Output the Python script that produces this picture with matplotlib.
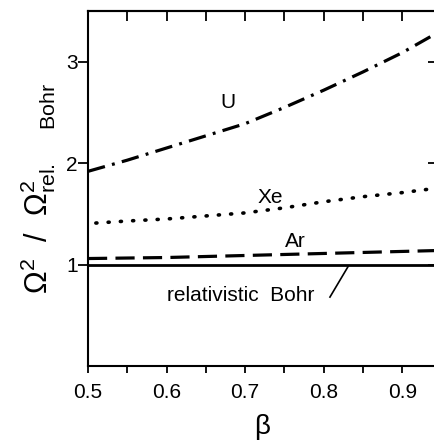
import matplotlib
matplotlib.use("Agg")
import matplotlib.pyplot as plt

plt.rcParams["font.family"] = ["Liberation Sans", "DejaVu Sans"]
plt.rcParams["mathtext.fontset"] = "custom"
plt.rcParams["mathtext.rm"] = "Liberation Sans"
plt.rcParams["mathtext.it"] = "Liberation Sans"

# data
beta = [0.50, 0.55, 0.60, 0.65, 0.70, 0.75, 0.80, 0.85, 0.90, 0.95]
u_ratio = [1.92, 2.03, 2.15, 2.27, 2.39, 2.55, 2.72, 2.90, 3.09, 3.31]

beta_xe = [0.51, 0.55, 0.60, 0.65, 0.70, 0.75, 0.80, 0.85, 0.90, 0.95]
xe_ratio = [1.41, 1.43, 1.45, 1.48, 1.51, 1.56, 1.62, 1.67, 1.71, 1.76]

ar_ratio = [1.06, 1.065, 1.07, 1.08, 1.09, 1.10, 1.11, 1.12, 1.13, 1.14]
bohr_ratio = [1.0] * len(beta)

x_ticks = [0.5, 0.6, 0.7, 0.8, 0.9]
x_minor = [0.55, 0.65, 0.75, 0.85]
y_ticks = [1, 2, 3]

fig = plt.figure(figsize=(4.35, 4.45), dpi=100)
ax = fig.add_axes([0.2023, 0.1775, 0.8, 0.7975])

ax.plot(beta, bohr_ratio, color="black", lw=2.0, solid_capstyle="butt")
ax.plot(beta, ar_ratio, color="black", lw=2.3,
        linestyle=(0, (6.0, 2.6)), dash_capstyle="butt")
ax.plot(beta_xe, xe_ratio, color="black", lw=2.6,
        linestyle=(0, (0.3, 3.1)), dash_capstyle="round")
ax.plot(beta, u_ratio, color="black", lw=2.3,
        linestyle=(0, (5.5, 2.3, 0.9, 2.3)), dash_capstyle="butt")

ax.text(0.678, 2.60, "U", fontsize=15, ha="center", va="center")
ax.text(0.732, 1.66, "Xe", fontsize=15, ha="center", va="center")
ax.text(0.764, 1.225, "Ar", fontsize=15, ha="center", va="center")
ax.text(0.694, 0.70, "relativistic  Bohr", fontsize=15,
        ha="center", va="center")
ax.plot([0.808, 0.831], [0.68, 0.98], color="black", lw=1.2)

ax.set_xlim(0.5, 0.943)
ax.set_ylim(0.0, 3.5)

ax.set_xticks(x_ticks)
ax.set_xticks(x_minor, minor=True)
ax.set_xticklabels(["0.5", "0.6", "0.7", "0.8", "0.9"])
ax.set_yticks(y_ticks)
ax.set_yticklabels(["1", "2", "3"])
ax.tick_params(axis="both", which="both", direction="out", labelsize=15,
               width=1.3)
ax.tick_params(axis="x", which="both", length=5, pad=7)
ax.tick_params(axis="y", which="major", length=7, pad=0.5)

top = ax.secondary_xaxis("top")
top.set_xticks(x_ticks)
top.set_xticks(x_minor, minor=True)
top.tick_params(axis="x", which="both", direction="in", length=7,
                width=1.3, labeltop=False)

right = ax.secondary_yaxis("right")
right.set_yticks(y_ticks)
right.tick_params(axis="y", direction="in", length=6, width=1.3,
                  labelright=False)

for side in ["left", "bottom", "top", "right"]:
    ax.spines[side].set_linewidth(1.5)
top.spines["top"].set_linewidth(1.5)
right.spines["right"].set_linewidth(1.5)

ax.set_xlabel("β", fontsize=20, labelpad=9)
ax.set_ylabel(r"$\Omega^2\ \ /\ \ \Omega^2_{\mathrm{rel.\quad\ \ Bohr}}$",
              fontsize=22, labelpad=6)

plt.savefig("out.png", dpi=100)
